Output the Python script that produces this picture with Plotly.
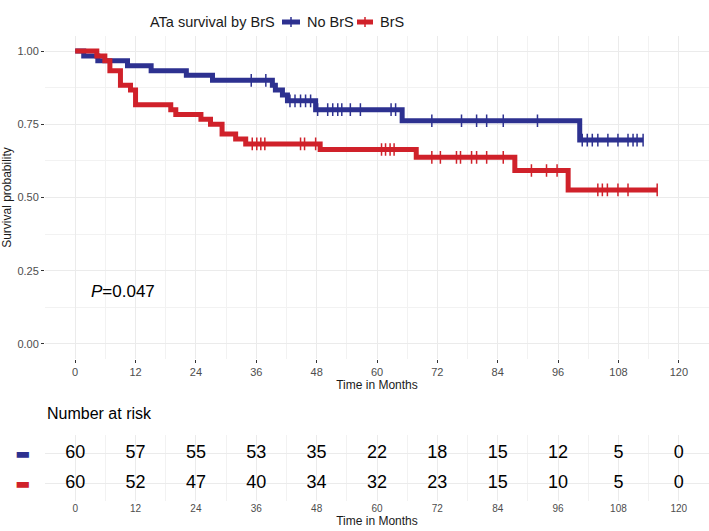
import numpy as np
import plotly.graph_objects as go

# Kaplan-Meier step data (time in months, survival)
nobrs_time = [0, 1.7, 4.5, 10.4, 15.1, 22.1, 27.3, 39.2, 39.8, 41.2, 42.2, 47.8, 65.0, 100.3]
nobrs_surv = [1.0, 0.983, 0.967, 0.950, 0.933, 0.917, 0.900, 0.883, 0.867, 0.850, 0.830, 0.800, 0.762, 0.696]
nobrs_end = 112.9
nobrs_censor = [35.0, 37.9, 42.7, 43.7, 44.8, 45.8, 46.8, 48.2, 50.2, 51.2, 52.2, 53.0, 54.7,
                56.7, 62.8, 63.7, 70.9, 76.8, 79.8, 81.8, 85.1, 91.9, 100.8, 101.8, 102.8,
                103.9, 105.9, 107.9, 109.9, 110.9, 111.7, 112.9]

brs_time = [0, 4.3, 5.9, 6.9, 9.0, 11.0, 12.0, 19.0, 20.0, 25.0, 26.9, 29.2, 31.9, 33.9,
            48.7, 67.8, 87.4, 98.0]
brs_surv = [1.0, 0.983, 0.967, 0.933, 0.883, 0.867, 0.817, 0.800, 0.783, 0.767, 0.750, 0.717,
            0.700, 0.683, 0.664, 0.637, 0.592, 0.526]
brs_end = 115.7
brs_censor = [35.2, 36.1, 36.9, 37.7, 44.8, 45.6, 47.8, 60.9, 61.7, 62.6, 63.4, 70.9, 72.6,
              75.8, 76.6, 78.8, 79.8, 81.8, 85.1, 90.7, 93.7, 95.8, 103.9, 104.8, 105.8,
              107.9, 109.9, 115.7]

# Number at risk table
risk_times = [0, 12, 24, 36, 48, 60, 72, 84, 96, 108, 120]
nobrs_risk = [60, 57, 55, 53, 35, 22, 18, 15, 12, 5, 0]
brs_risk = [60, 52, 47, 40, 34, 32, 23, 15, 10, 5, 0]

BLUE = "#2D3190"
RED = "#D0212A"
FONT = "Liberation Sans, Arial, sans-serif"
W, H = 709, 531


def step_at(times, surv, t):
    idx = np.searchsorted(times, t, side="right") - 1
    return [surv[i] for i in idx]


def px(x):
    return x / W


def py(y):
    return 1 - y / H


groups = [
    ("No BrS", nobrs_time, nobrs_surv, nobrs_end, nobrs_censor, BLUE),
    ("BrS", brs_time, brs_surv, brs_end, brs_censor, RED),
]

fig = go.Figure()

for name, t, s, end, cens, col in groups:
    fig.add_trace(go.Scatter(
        x=t + [end], y=s + [s[-1]],
        mode="lines", line=dict(color=col, width=5, shape="hv"),
        name=name, xaxis="x", yaxis="y", showlegend=False,
    ))
for name, t, s, end, cens, col in groups:
    fig.add_trace(go.Scatter(
        x=cens, y=step_at(t, s, cens),
        mode="markers",
        marker=dict(symbol="line-ns", size=9, line=dict(color=col, width=1.5)),
        showlegend=False, xaxis="x", yaxis="y", hoverinfo="skip",
    ))

# risk table rows
for row, vals in [(2, nobrs_risk), (1, brs_risk)]:
    fig.add_trace(go.Scatter(
        x=risk_times, y=[row] * len(risk_times), text=[str(v) for v in vals],
        mode="text", textfont=dict(size=18, color="black", family=FONT),
        showlegend=False, xaxis="x2", yaxis="y2", hoverinfo="skip",
    ))

grid = "#EBEBEB"
minor_grid = "#F2F2F2"
tickfont = dict(size=11, color="#4D4D4D", family=FONT)
xdom = [px(45), 1.0]

# legend drawn by hand (ggplot-style short keys)
legend_shapes = []
legend_notes = [
    dict(text="ATa survival by BrS", x=px(277), y=py(22), xref="paper", yref="paper",
         xanchor="right", yanchor="middle", showarrow=False,
         font=dict(size=14.5, color="#1A1A1A")),
]
for (name, *_rest), kx, lx in zip(groups, [(282, 300), (357, 373)], [305, 378]):
    col = _rest[-1]
    legend_shapes.append(dict(type="line", xref="paper", yref="paper",
                              x0=px(kx[0]), x1=px(kx[1]), y0=py(22), y1=py(22),
                              line=dict(color=col, width=5)))
    mid = (kx[0] + kx[1]) / 2
    legend_shapes.append(dict(type="line", xref="paper", yref="paper",
                              x0=px(mid), x1=px(mid), y0=py(17), y1=py(27),
                              line=dict(color=col, width=1.5)))
    legend_notes.append(dict(text=name, x=px(lx), y=py(22), xref="paper", yref="paper",
                             xanchor="left", yanchor="middle", showarrow=False,
                             font=dict(size=14.5, color="#1A1A1A")))

fig.update_layout(
    width=W, height=H,
    margin=dict(l=0, r=0, t=0, b=0),
    paper_bgcolor="white", plot_bgcolor="white",
    font=dict(family=FONT, color="#1A1A1A"),
    showlegend=False,
    xaxis=dict(
        domain=xdom, range=[-6, 126], anchor="y",
        tickvals=risk_times, ticks="outside", ticklen=3, tickcolor="#333333",
        tickfont=tickfont, showgrid=True, gridcolor=grid, gridwidth=1,
        minor=dict(dtick=6, tick0=0, showgrid=True, gridcolor=minor_grid, gridwidth=1),
        zeroline=False, showline=False, automargin=False,
        title=dict(text="Time in Months", font=dict(size=12, color="#1A1A1A"), standoff=2),
    ),
    yaxis=dict(
        domain=[py(358.6), py(36.4)], range=[-0.05, 1.05], anchor="x",
        tickvals=[0, 0.25, 0.5, 0.75, 1.0], tickformat=".2f",
        ticks="outside", ticklen=3, tickcolor="#333333", tickfont=tickfont,
        showgrid=True, gridcolor=grid,
        minor=dict(dtick=0.125, tick0=0, showgrid=True, gridcolor=minor_grid),
        zeroline=False, showline=False, automargin=False,
        title=dict(text="Survival probability", font=dict(size=12, color="#1A1A1A"), standoff=4),
    ),
    xaxis2=dict(
        domain=xdom, range=[-6, 126], anchor="y2",
        tickvals=risk_times, ticks="", tickfont=dict(size=10, color="#4D4D4D", family=FONT),
        showgrid=True, gridcolor=grid,
        minor=dict(dtick=6, tick0=0, showgrid=True, gridcolor=minor_grid),
        zeroline=False, showline=False, automargin=False,
        title=dict(text="Time in Months", font=dict(size=12, color="#1A1A1A"), standoff=0),
    ),
    yaxis2=dict(
        domain=[py(501), py(435)], range=[0.4, 2.6], anchor="x2",
        tickvals=[1, 2],
        ticktext=[f'<span style="color:{RED}">▬</span>',
                  f'<span style="color:{BLUE}">▬</span>'],
        tickfont=dict(size=16, family="DejaVu Sans"), ticks="", ticklabelstandoff=14,
        showgrid=True, gridcolor=grid, zeroline=False, showline=False, automargin=False,
    ),
    shapes=legend_shapes,
    annotations=legend_notes + [
        dict(text="<i>P</i>=0.047", x=9.6, y=0.18, xref="x", yref="y",
             showarrow=False, font=dict(size=17, color="black")),
        dict(text="Number at risk", x=px(45), y=py(413), xref="paper", yref="paper",
             xanchor="left", yanchor="middle", showarrow=False,
             font=dict(size=16, color="black")),
    ],
)

fig.write_html("out.html", config={"displayModeBar": False},
               post_script="document.body.style.margin='0';")
